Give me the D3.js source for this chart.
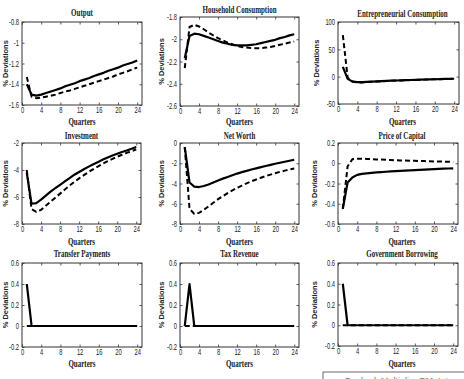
<!DOCTYPE html>
<html>
<head>
<meta charset="utf-8">
<script src="https://cdn.jsdelivr.net/npm/d3@7/dist/d3.min.js"></script>
<style>
	body { margin: 0; background: #fff; }
</style>
</head>
<body>
<div class="chart"></div>
<script>
var quarters = [1, 2, 3, 4, 5, 6, 7, 8, 9, 10, 11, 12, 13, 14, 15, 16, 17, 18, 19, 20, 21, 22, 23, 24];
var xTicks = [0, 4, 8, 12, 16, 20, 24];

var titles = ['Output', 'Household Consumption', 'Entrepreneurial Consumption',
	'Investment', 'Net Worth', 'Price of Capital',
	'Transfer Payments', 'Tax Revenue', 'Government Borrowing'];

var yTicks = [
	[-1.6, -1.4, -1.2, -1, -0.8],
	[-2.6, -2.4, -2.2, -2, -1.8],
	[-50, 0, 50, 100],
	[-8, -6, -4, -2],
	[-8, -6, -4, -2, 0],
	[-0.6, -0.4, -0.2, 0, 0.2],
	[-0.2, 0, 0.2, 0.4, 0.6],
	[-0.2, 0, 0.2, 0.4, 0.6],
	[-0.2, 0, 0.2, 0.4, 0.6]
];

// solid line = baseline, dashed line = alternative
var outputSolid = [-1.40, -1.50, -1.51, -1.50, -1.485, -1.47, -1.455, -1.44, -1.42, -1.405, -1.39, -1.37, -1.355, -1.34, -1.32, -1.305, -1.29, -1.27, -1.255, -1.24, -1.22, -1.205, -1.19, -1.17];
var outputDashed = [-1.33, -1.52, -1.535, -1.53, -1.52, -1.51, -1.50, -1.485, -1.47, -1.46, -1.445, -1.43, -1.415, -1.40, -1.385, -1.37, -1.355, -1.34, -1.325, -1.305, -1.29, -1.275, -1.255, -1.24];

var hhSolid = [-2.17, -1.97, -1.95, -1.955, -1.97, -1.985, -2.0, -2.015, -2.03, -2.04, -2.05, -2.055, -2.055, -2.055, -2.05, -2.045, -2.035, -2.025, -2.015, -2.005, -1.99, -1.98, -1.965, -1.955];
var hhDashed = [-2.26, -1.89, -1.87, -1.885, -1.91, -1.94, -1.965, -1.99, -2.01, -2.03, -2.045, -2.06, -2.07, -2.075, -2.08, -2.08, -2.08, -2.075, -2.07, -2.06, -2.05, -2.04, -2.03, -2.02];

var entSolid = [18, -4, -9, -10, -10, -9.5, -9, -8.5, -8, -7.7, -7.4, -7, -6.7, -6.4, -6.1, -5.8, -5.5, -5.2, -5, -4.7, -4.5, -4.2, -4, -3.8];
var entDashed = [76, -2, -9, -10.5, -10.5, -10, -9.5, -9, -8.5, -8, -7.6, -7.2, -6.8, -6.5, -6.2, -5.9, -5.6, -5.3, -5, -4.8, -4.5, -4.3, -4.1, -3.9];

var invSolid = [-4.2, -6.5, -6.45, -6.2, -5.9, -5.6, -5.35, -5.1, -4.85, -4.6, -4.35, -4.15, -3.95, -3.75, -3.57, -3.4, -3.23, -3.07, -2.93, -2.8, -2.67, -2.55, -2.43, -2.3];
var invDashed = [-4.0, -6.9, -7.1, -6.95, -6.65, -6.35, -6.05, -5.75, -5.45, -5.15, -4.88, -4.62, -4.38, -4.15, -3.93, -3.73, -3.53, -3.35, -3.18, -3.02, -2.87, -2.73, -2.6, -2.48];

var nwSolid = [-0.4, -3.9, -4.3, -4.35, -4.25, -4.1, -3.9, -3.7, -3.52, -3.35, -3.18, -3.02, -2.88, -2.75, -2.62, -2.5, -2.38, -2.27, -2.16, -2.05, -1.95, -1.85, -1.75, -1.65];
var nwDashed = [-0.4, -6.5, -7.0, -6.9, -6.6, -6.25, -5.9, -5.55, -5.25, -4.95, -4.68, -4.43, -4.2, -3.98, -3.78, -3.6, -3.43, -3.27, -3.12, -2.98, -2.85, -2.73, -2.62, -2.52];

var pkSolid = [-0.45, -0.19, -0.14, -0.115, -0.105, -0.1, -0.095, -0.09, -0.087, -0.084, -0.081, -0.078, -0.075, -0.072, -0.07, -0.067, -0.065, -0.062, -0.06, -0.058, -0.056, -0.054, -0.052, -0.05];
var pkDashed = [-0.45, -0.03, 0.04, 0.045, 0.045, 0.043, 0.04, 0.038, 0.036, 0.034, 0.032, 0.03, 0.028, 0.027, 0.025, 0.024, 0.022, 0.021, 0.02, 0.018, 0.017, 0.016, 0.015, 0.013];

var transferSolid = [0.4, 0, 0, 0, 0, 0, 0, 0, 0, 0, 0, 0, 0, 0, 0, 0, 0, 0, 0, 0, 0, 0, 0, 0];
var transferDashed = [0, 0, 0, 0, 0, 0, 0, 0, 0, 0, 0, 0, 0, 0, 0, 0, 0, 0, 0, 0, 0, 0, 0, 0];
var taxSolid = [0, 0.4, 0, 0, 0, 0, 0, 0, 0, 0, 0, 0, 0, 0, 0, 0, 0, 0, 0, 0, 0, 0, 0, 0];
var taxDashed = [0, 0, 0, 0, 0, 0, 0, 0, 0, 0, 0, 0, 0, 0, 0, 0, 0, 0, 0, 0, 0, 0, 0, 0];
var borrowSolid = [0.4, 0, 0, 0, 0, 0, 0, 0, 0, 0, 0, 0, 0, 0, 0, 0, 0, 0, 0, 0, 0, 0, 0, 0];
var borrowDashed = [0, 0, 0, 0, 0, 0, 0, 0, 0, 0, 0, 0, 0, 0, 0, 0, 0, 0, 0, 0, 0, 0, 0, 0];

var solidSeries = [outputSolid, hhSolid, entSolid, invSolid, nwSolid, pkSolid, transferSolid, taxSolid, borrowSolid];
var dashedSeries = [outputDashed, hhDashed, entDashed, invDashed, nwDashed, pkDashed, transferDashed, taxDashed, borrowDashed];

// Plot boxes [left, top, right, bottom] and label positions.
var boxes = [[22, 22, 142, 105], [180, 17, 299, 106], [338, 22, 459, 104],
	[22, 143, 141, 224], [180, 143, 299, 224], [338, 143, 458, 224],
	[22, 263, 142, 347], [180, 263, 299, 347], [338, 263, 458, 346]];
var titleY = [16, 13, 17, 139, 139, 139, 257, 257, 257];
var titleDx = [0, 0, 4, 0, 0, 4, 0, 0, 4];
var quartersY = [125, 125, 125, 245, 245, 245, 367, 367, 367];
var yLabelX = [5, 161, 316, 5, 161, 314, 5, 161, 314];

var textColor = '#222',
	narrow = 0.68;

var svg = d3.select('.chart').append('svg')
	.attr('width', 464)
	.attr('height', 379)
	.style('display', 'block')
	.style('background', '#fff');

var fmt = function(d) { return String(+d.toFixed(2)); };

titles.forEach(function(title, i) {
	var b = boxes[i],
		w = b[2] - b[0],
		h = b[3] - b[1],
		cx = (b[0] + b[2]) / 2;
	var x = d3.scaleLinear().domain([0, 25]).range([0, w]);
	var y = d3.scaleLinear().domain(d3.extent(yTicks[i])).range([h, 0]);

	var g = svg.append('g').attr('transform', 'translate(' + b[0] + ',' + b[1] + ')');

	// axes: ticks point inward on all four sides, labels only left and bottom
	var bottom = g.append('g')
		.attr('transform', 'translate(0,' + h + ')')
		.call(d3.axisBottom(x).tickValues(xTicks).tickSizeInner(-2.5).tickSizeOuter(0).tickPadding(2).tickFormat(fmt));
	g.append('g')
		.call(d3.axisTop(x).tickValues(xTicks).tickSizeInner(-2.5).tickSizeOuter(0).tickFormat(''));
	var left = g.append('g')
		.call(d3.axisLeft(y).tickValues(yTicks[i]).tickSizeInner(-2.5).tickSizeOuter(0).tickPadding(3).tickFormat(fmt));
	g.append('g')
		.attr('transform', 'translate(' + w + ',0)')
		.call(d3.axisRight(y).tickValues(yTicks[i]).tickSizeInner(-2.5).tickSizeOuter(0).tickFormat(''));

	g.selectAll('.domain').remove();
	g.selectAll('.tick line').attr('stroke', '#333').attr('stroke-width', 0.8);
	g.selectAll('.tick text')
		.attr('fill', textColor)
		.attr('font-family', 'Liberation Sans, Arial, sans-serif')
		.attr('font-size', '8.5px');
	bottom.selectAll('.tick text')
		.attr('transform', 'scale(' + narrow + ',1)');
	left.selectAll('.tick text')
		.attr('x', -3 / narrow)
		.attr('transform', 'scale(' + narrow + ',1)');

	g.append('rect')
		.attr('width', w)
		.attr('height', h)
		.attr('fill', 'none')
		.attr('stroke', '#333')
		.attr('stroke-width', 1);

	var line = d3.line()
		.x(function(d, k) { return x(quarters[k]); })
		.y(function(d) { return y(d); });

	g.append('path')
		.datum(solidSeries[i])
		.attr('fill', 'none')
		.attr('stroke', '#000')
		.attr('stroke-width', 2.2)
		.attr('stroke-linejoin', 'round')
		.attr('d', line);
	g.append('path')
		.datum(dashedSeries[i])
		.attr('fill', 'none')
		.attr('stroke', '#000')
		.attr('stroke-width', 2)
		.attr('stroke-dasharray', '5,3')
		.attr('d', line);

	// panel title
	svg.append('text')
		.attr('transform', 'translate(' + (cx + titleDx[i]) + ',' + titleY[i] + ') scale(0.7,1)')
		.attr('text-anchor', 'middle')
		.attr('font-family', 'Liberation Serif, Times New Roman, serif')
		.attr('font-weight', 'bold')
		.attr('font-size', '10px')
		.attr('fill', textColor)
		.text(title);

	// x label
	svg.append('text')
		.attr('transform', 'translate(' + (cx + titleDx[i]) + ',' + quartersY[i] + ') scale(0.7,1)')
		.attr('text-anchor', 'middle')
		.attr('font-family', 'Liberation Serif, Times New Roman, serif')
		.attr('font-weight', 'bold')
		.attr('font-size', '10px')
		.attr('fill', textColor)
		.text('Quarters');

	// y label
	svg.append('text')
		.attr('transform', 'translate(' + yLabelX[i] + ',' + (b[1] + h / 2) + ') rotate(-90)')
		.attr('text-anchor', 'middle')
		.attr('dominant-baseline', 'central')
		.attr('font-family', 'Liberation Sans, Arial, sans-serif')
		.attr('font-weight', 'bold')
		.attr('font-size', '7.5px')
		.attr('fill', textColor)
		.text('% Deviations');
});

// Legend box, cut off by the bottom edge of the figure.
svg.append('rect')
	.attr('x', 323)
	.attr('y', 372)
	.attr('width', 160)
	.attr('height', 30)
	.attr('fill', 'none')
	.attr('stroke', '#444')
	.attr('stroke-width', 0.8);
svg.append('text')
	.attr('x', 345)
	.attr('y', 384)
	.attr('font-family', 'Liberation Sans, Arial, sans-serif')
	.attr('font-size', '9px')
	.attr('fill', '#777')
	.text('Dashed: Multiplier     PM: Interest');
</script>
</body>
</html>
